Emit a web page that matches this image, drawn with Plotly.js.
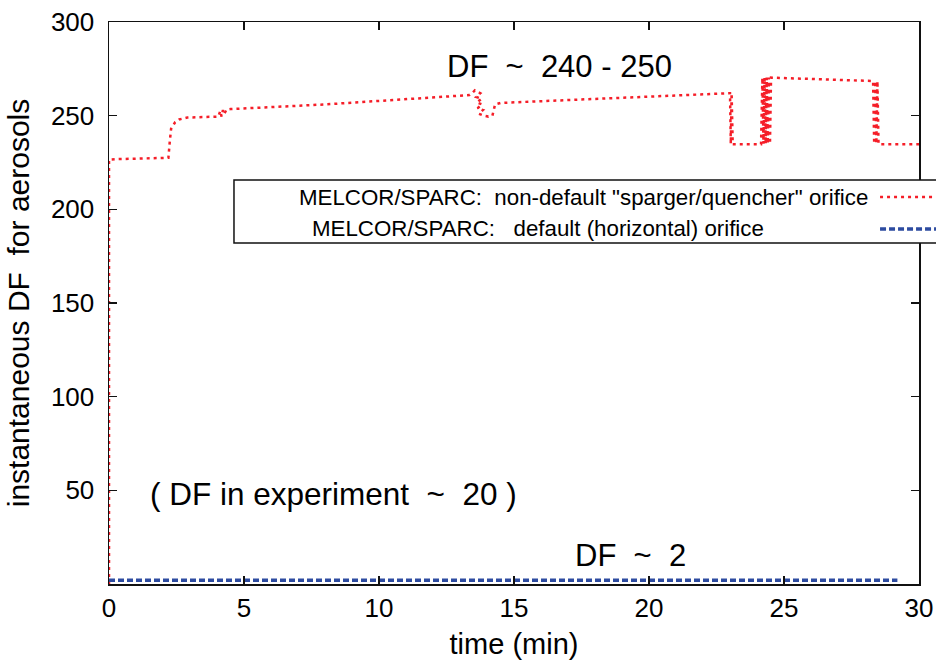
<!DOCTYPE html>
<html>
<head>
<meta charset="utf-8">
<script src="https://cdn.plot.ly/plotly-3.0.1.min.js"></script>
<style>html,body{margin:0;padding:0;background:#fff;}#chart{width:936px;height:662px;}</style>
</head>
<body>
<div id="chart"></div>
<script>
// ---- data ----
var seriesNames = [
  'MELCOR/SPARC:\u00A0 non-default "sparger/quencher" orifice',
  'MELCOR/SPARC:\u00A0\u00A0 default (horizontal) orifice'
];
var sparger_time = [0, 0, 0.3, 1.2, 2.2, 2.25, 2.3, 2.45, 2.6, 2.9, 3.5, 4.05, 4.12, 4.17, 4.22, 4.27, 4.35, 4.5, 8.0, 12.0, 13.2, 13.35, 13.45, 13.55, 13.75, 13.6, 13.8, 13.62, 13.82, 13.65, 13.85, 13.7, 13.88, 14.05, 14.2, 14.3, 14.5, 18.0, 23.0, 23.03, 23.06, 23.1, 23.6, 24.15, 24.2, 24.24, 24.28, 24.32, 24.36, 24.4, 24.44, 24.48, 24.52, 26.0, 28.3, 28.34, 28.38, 28.42, 28.46, 28.5, 28.55, 29.2, 30.0];
var sparger_df   = [0, 226.5, 226.8, 227, 227.5, 236, 243, 246.5, 248, 249, 249.3, 249.5, 252.5, 249.5, 253, 251, 253.2, 253.5, 256, 259.5, 260.5, 261, 262, 263.5, 262, 260, 259, 257, 256, 254, 253, 251, 250, 249.5, 250, 256, 256.8, 258.8, 262, 235, 262, 234.8, 234.7, 234.7, 270.3, 235, 270.3, 235, 270.3, 235, 270.3, 235, 270.3, 269.5, 268.5, 235, 268.5, 235, 268.5, 235, 234.7, 234.7, 234.7];
var horizontal_time = [0, 29.2];
var horizontal_df   = [2, 2];
var xTicks = [0, 5, 10, 15, 20, 25, 30];
var yTicks = [50, 100, 150, 200, 250, 300];
var notes = ['DF\u00A0 ~\u00A0 240 - 250', '( DF in experiment\u00A0 ~\u00A0 20 )', 'DF\u00A0 ~\u00A0 2'];

var FONT = 'Liberation Sans, Arial, Helvetica, sans-serif';
var RED = 'rgb(245,30,40)';
var BLUE = 'rgb(45,75,160)';

var traces = [
  {x: sparger_time, y: sparger_df, mode: 'lines', name: seriesNames[0],
   line: {color: RED, width: 2.5, dash: '3px,4px'}, showlegend: false},
  {x: horizontal_time, y: horizontal_df, mode: 'lines', name: seriesNames[1],
   line: {color: BLUE, width: 3.5, dash: '6px,3px'}, showlegend: false}
];

var axisCommon = {
  showgrid: false, zeroline: false, showline: true, linecolor: '#111', linewidth: 1.5,
  mirror: 'ticks', ticks: 'inside', ticklen: 8, tickwidth: 1.5, tickcolor: '#111',
  tickfont: {family: FONT, size: 26, color: '#000'}
};

var layout = {
  width: 936, height: 662,
  margin: {l: 109, r: 17, t: 22, b: 78},
  paper_bgcolor: '#fff', plot_bgcolor: '#fff',
  showlegend: false,
  font: {family: FONT, color: '#000'},
  xaxis: Object.assign({}, axisCommon, {
    range: [0, 30], tickvals: xTicks, ticktext: xTicks.map(String),
    title: {text: 'time (min)', font: {family: FONT, size: 29}, standoff: 12}
  }),
  yaxis: Object.assign({}, axisCommon, {
    range: [0, 300], tickvals: yTicks, ticktext: yTicks.map(String),
    ticklabelstandoff: 8,
    title: {text: 'instantaneous DF\u00A0 for aerosols', font: {family: FONT, size: 30}, standoff: 12}
  }),
  annotations: [
    {x: 16.69, y: 276, xref: 'x', yref: 'y', text: notes[0], showarrow: false,
     font: {family: FONT, size: 31}},
    {x: 8.3, y: 48, xref: 'x', yref: 'y', text: notes[1], showarrow: false,
     font: {family: FONT, size: 31.5}},
    {x: 19.3, y: 15, xref: 'x', yref: 'y', text: notes[2], showarrow: false,
     font: {family: FONT, size: 31}},
    {x: 0.2321, y: 0.6886, xref: 'paper', yref: 'paper', xanchor: 'left', yanchor: 'middle',
     text: seriesNames[0], showarrow: false, font: {family: FONT, size: 22.3}},
    {x: 0.2481, y: 0.6317, xref: 'paper', yref: 'paper', xanchor: 'left', yanchor: 'middle',
     text: seriesNames[1], showarrow: false, font: {family: FONT, size: 22.3}}
  ],
  shapes: [
    {type: 'rect', xref: 'paper', yref: 'paper', x0: 0.1543, x1: 1.06, y0: 0.6068, y1: 0.7189,
     line: {color: '#111', width: 1.5}, fillcolor: '#fff', layer: 'above'},
    {type: 'line', xref: 'paper', yref: 'paper', x0: 0.9519, x1: 1.06, y0: 0.6886, y1: 0.6886,
     line: {color: RED, width: 2.5, dash: '3px,4px'}, layer: 'above'},
    {type: 'line', xref: 'paper', yref: 'paper', x0: 0.9519, x1: 1.06, y0: 0.6317, y1: 0.6317,
     line: {color: BLUE, width: 3.5, dash: '6px,3px'}, layer: 'above'}
  ]
};

Plotly.newPlot('chart', traces, layout, {displayModeBar: false, staticPlot: true});
</script>
</body>
</html>
